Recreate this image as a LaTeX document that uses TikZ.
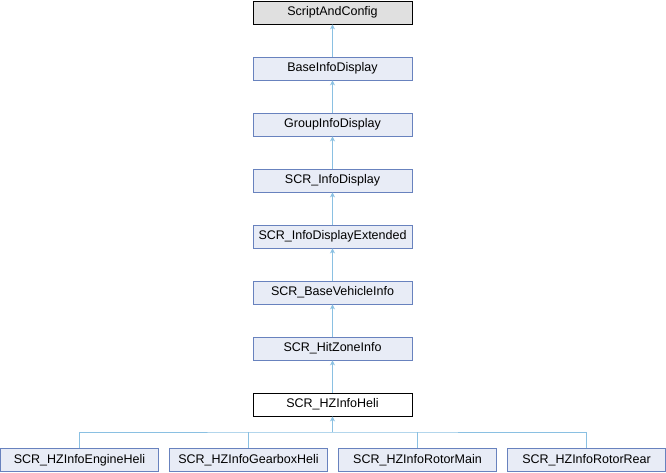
\documentclass[tikz,border=0pt]{standalone}
\usepackage{fontspec}
\setmainfont{Liberation Sans}
\usetikzlibrary{arrows.meta}

\definecolor{edgeblue}{RGB}{138,192,226}
\definecolor{boxfill}{RGB}{232,236,246}
\definecolor{boxline}{RGB}{104,130,190}
\definecolor{topfill}{RGB}{224,224,224}

\tikzset{
  classbox/.style={draw=boxline, fill=boxfill, line width=0.9pt,
    minimum width=159pt, minimum height=23pt, inner sep=0pt,
    font=\fontsize{12.5}{14}\selectfont},
  rootbox/.style={classbox, draw=black, fill=topfill},
  curbox/.style={classbox, draw=black, fill=white},
  inherit/.style={draw=edgeblue, line width=0.9pt,
    -{Stealth[length=5pt,width=5pt]}},
  busline/.style={draw=edgeblue, line width=0.9pt}
}

\begin{document}
\begin{tikzpicture}[x=1pt, y=-1pt]
  \useasboundingbox (0,0) rectangle (666,472);

  % Main inheritance chain, 56pt apart.
  \node[rootbox] (script) at (332.5,12.5) {ScriptAndConfig};
  \node[classbox] (baseinfo) at (332.5,68.5) {BaseInfoDisplay};
  \node[classbox] (groupinfo) at (332.5,124.5) {GroupInfoDisplay};
  \node[classbox] (scrinfo) at (332.5,180.5) {SCR\_InfoDisplay};
  \node[classbox] (scrinfoext) at (332.5,236.5) {SCR\_InfoDisplayExtended};
  \node[classbox] (vehicle) at (332.5,292.5) {SCR\_BaseVehicleInfo};
  \node[classbox] (hitzone) at (332.5,348.5) {SCR\_HitZoneInfo};
  \node[curbox] (heli) at (332.5,404.5) {SCR\_HZInfoHeli};

  % Derived classes.
  \node[classbox, minimum width=158pt] (engine) at (79.5,460) {SCR\_HZInfoEngineHeli};
  \node[classbox, minimum width=158pt] (gearbox) at (248.5,460) {SCR\_HZInfoGearboxHeli};
  \node[classbox, minimum width=158pt] (rotormain) at (417.5,460) {SCR\_HZInfoRotorMain};
  \node[classbox, minimum width=158pt] (rotorrear) at (586.5,460) {SCR\_HZInfoRotorRear};

  % Chain edges.
  \draw[inherit] (baseinfo) -- (script);
  \draw[inherit] (groupinfo) -- (baseinfo);
  \draw[inherit] (scrinfo) -- (groupinfo);
  \draw[inherit] (scrinfoext) -- (scrinfo);
  \draw[inherit] (vehicle) -- (scrinfoext);
  \draw[inherit] (hitzone) -- (vehicle);
  \draw[inherit] (heli) -- (hitzone);

  % Bus to the derived classes.
  \coordinate (bus) at (332.5,432);
  \draw[inherit] (bus) -- (heli);
  \draw[busline] (engine.north) |- (bus) -| (rotorrear.north);
  \draw[busline] (gearbox.north) -- (gearbox.north |- bus);
  \draw[busline] (rotormain.north) -- (rotormain.north |- bus);
\end{tikzpicture}
\end{document}
